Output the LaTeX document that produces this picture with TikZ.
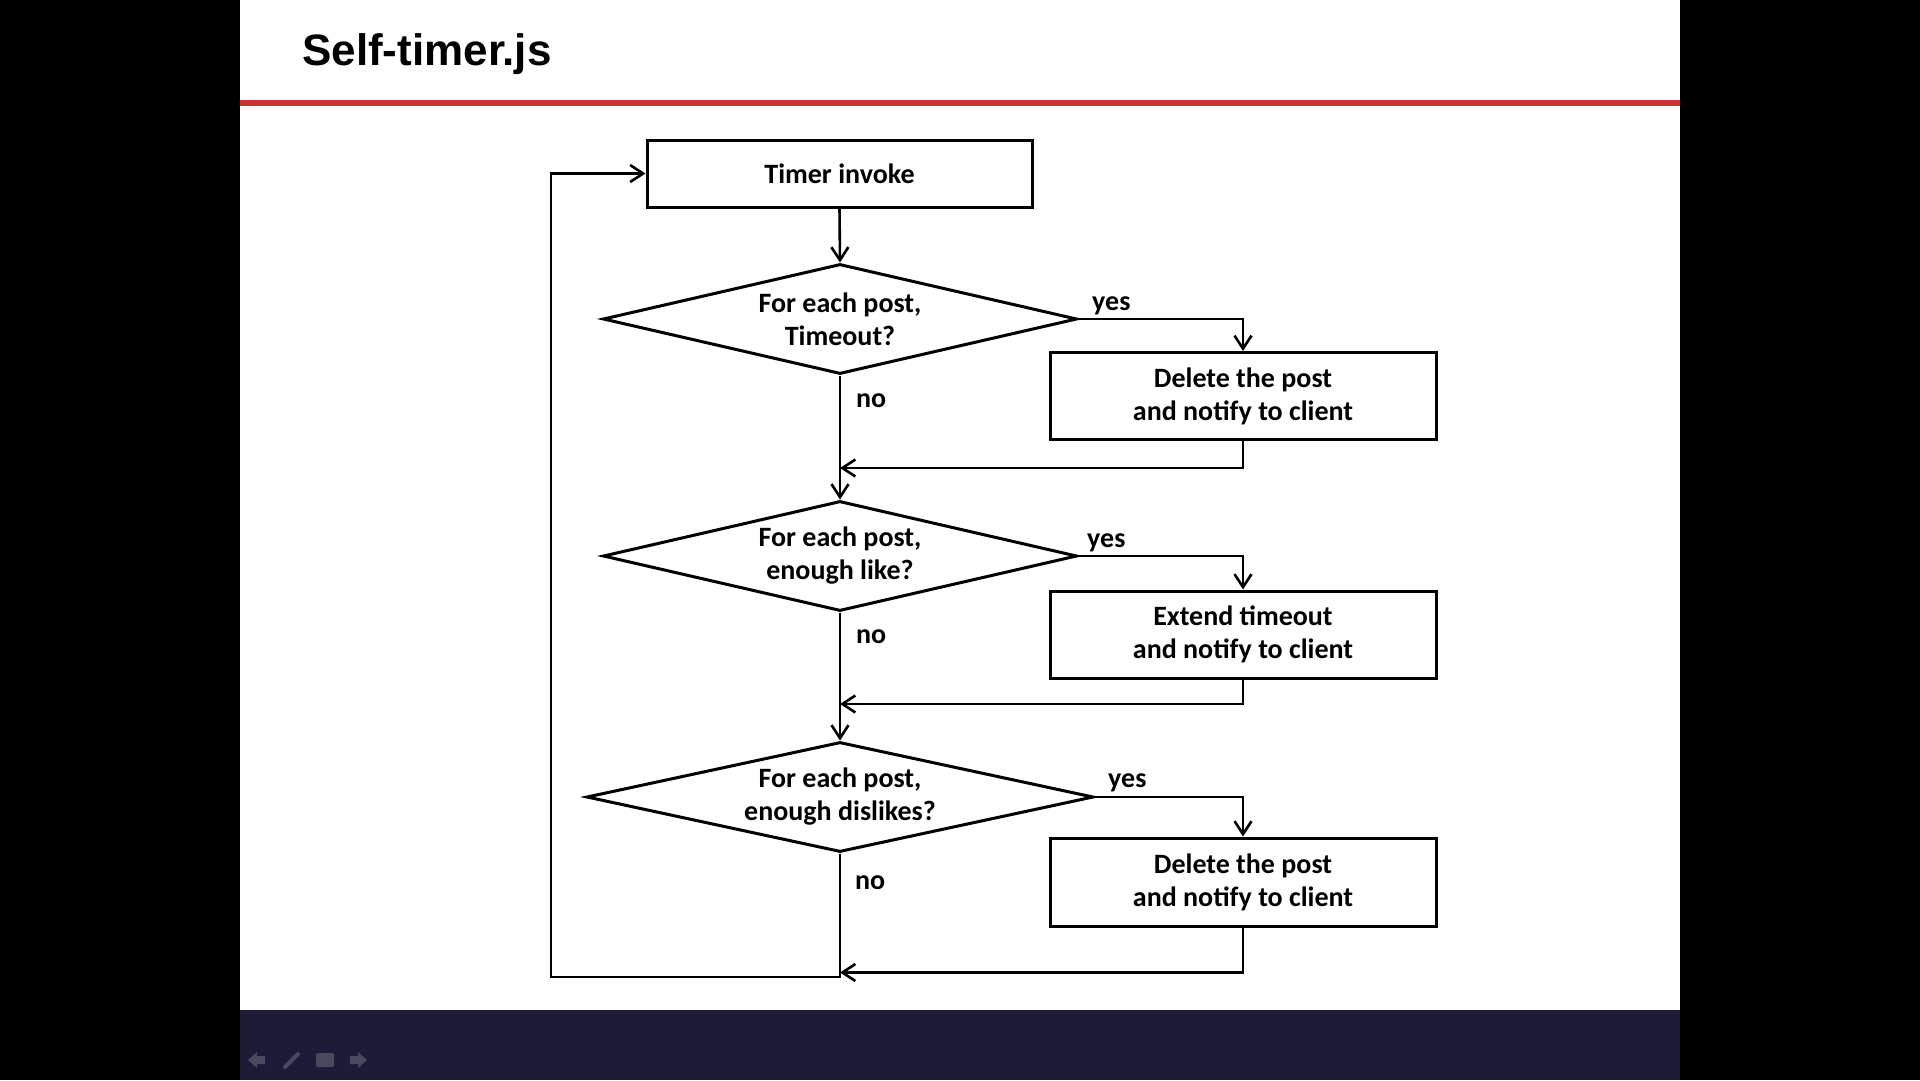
\documentclass[tikz,border=0pt]{standalone}
\usepackage{fontspec}
\setmainfont{Carlito}
\newfontfamily\titlefont{Liberation Sans}
\usepackage{tikz}
\usetikzlibrary{shapes.geometric}
\usetikzlibrary{arrows.meta}
\definecolor{slidered}{RGB}{200,50,52}
\definecolor{footnavy}{RGB}{30,27,56}
\definecolor{icongray}{RGB}{72,72,94}
\tikzset{
  txt/.style={font=\fontsize{28}{33}\selectfont\bfseries, align=center},
  procbox/.style={txt, draw, line width=3pt, minimum width=386pt, minimum height=87pt, inner sep=0pt},
  decide/.style={txt, draw, diamond, aspect=4.31, line width=3pt, inner sep=0pt, minimum width=474pt, minimum height=110pt},
  flow/.style={line width=2.6pt, -{Straight Barb[length=13pt,width=17pt]}},
  lbl/.style={font=\fontsize{28}{33}\selectfont\bfseries, anchor=base west, inner sep=0pt}
}
\newcommand{\branch}[3]{\draw[flow] (#1.east) -| (#2.north); \draw[flow] (#2.south) |- (#3);}
\begin{document}
\begin{tikzpicture}[x=1pt, y=-1pt]
        \useasboundingbox (0,0) rectangle (1920,1080);
        % slide
        \fill[white] (0,0) rectangle (1920,1080);
        \fill[black] (0,0) rectangle (240,1080);
        \fill[black] (1680,0) rectangle (1920,1080);
        \fill[footnavy] (240,1010) rectangle (1680,1080);
        \fill[slidered] (240,100) rectangle (1680,106);
        \node[anchor=base west, inner sep=0pt, font=\titlefont\fontsize{44}{50}\selectfont\bfseries] (title) at (302,65) {Self-timer.js};
        % footer icons
        \fill[icongray] (248,1060) -- (257,1052) -- (257,1056) -- (265,1056) -- (265,1064) -- (257,1064) -- (257,1068) -- cycle;
        \draw[icongray, line width=4pt, line cap=round] (285,1067) -- (298,1054);
        \fill[icongray, rounded corners=2pt] (316,1053) rectangle (334,1067);
        \fill[icongray] (367,1060) -- (358,1052) -- (358,1056) -- (350,1056) -- (350,1064) -- (358,1064) -- (358,1068) -- cycle;
        % nodes
        \node[procbox, minimum width=385pt, minimum height=67pt] (timer) at (839.5,173.5) {Timer invoke};
        \node[decide] (q1) at (840,319) {For each post,\\Timeout?};
        \node[procbox] (del1) at (1243,396) {Delete the post\\and notify to client};
        \node[decide] (q2) at (840,556) {For each post,\\enough like?};
        \node[procbox] (ext) at (1243,634.5) {Extend timeout\\and notify to client};
        \node[decide, aspect=4.61, minimum width=507pt] (q3) at (840,797) {For each post,\\enough dislikes?};
        \node[procbox, minimum height=88pt] (del2) at (1243,882) {Delete the post\\and notify to client};
        \coordinate (m1) at (840,468);
        \coordinate (m2) at (840,704);
        \coordinate (m3) at (840,972.5);
        \coordinate (loop) at (551,977);
        % labels
        \node[lbl] (yes1) at (1092,310) {yes};
        \node[lbl] (yes2) at (1087,547) {yes};
        \node[lbl] (yes3) at (1108,787) {yes};
        \node[lbl] (no1) at (856,407) {no};
        \node[lbl] (no2) at (856,643) {no};
        \node[lbl] (no3) at (855,889) {no};
        % connectors
        \draw[flow] (timer.south) -- (q1.north);
        \draw[flow] (q1.south) -- (q2.north);
        \draw[flow] (q2.south) -- (q3.north);
        \branch{q1}{del1}{m1}
        \branch{q2}{ext}{m2}
        \branch{q3}{del2}{m3}
        \draw[flow] (q3.south) |- (loop) |- (timer.west);
    \end{tikzpicture}
\end{document}
